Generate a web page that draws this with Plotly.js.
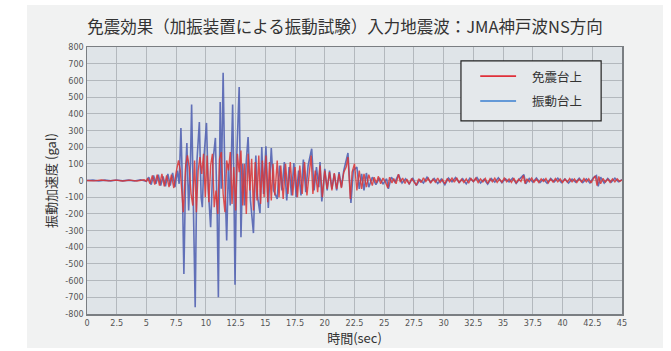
<!DOCTYPE html>
<html>
<head>
<meta charset="utf-8">
<script src="https://cdn.plot.ly/plotly-3.0.1.min.js"></script>
<style>
  html, body { margin: 0; padding: 0; background: #ffffff; width: 671px; height: 351px; overflow: hidden; }
  #chart { position: absolute; left: 27px; top: 5px; width: 636px; height: 343px; }
</style>
</head>
<body>
<div id="chart"></div>
<script>
const chartTitle = '免震効果（加振装置による振動試験）入力地震波：JMA神戸波NS方向';
const xTitle = '時間(sec)';
const yTitle = '振動加速度 (gal)';
const seriesNames = ['免震台上', '振動台上'];
const seriesColors = ['#dc3434', '#5363b3'];
const xTickVals = [0, 2.5, 5, 7.5, 10, 12.5, 15, 17.5, 20, 22.5, 25, 27.5, 30, 32.5, 35, 37.5, 40, 42.5, 45];
const yTickVals = [-800, -700, -600, -500, -400, -300, -200, -100, 0, 100, 200, 300, 400, 500, 600, 700, 800];

// 振動台上 (shaking table) : [time s, acceleration gal]
const shakeTablePts = [
  [0,0],[0.5,2],[1,-3],[1.5,2],[2,-2],[2.5,3],[3,-2],[3.5,2],[4,-3],[4.5,4],[5,-5],
  [5.2,20],[5.4,-25],[5.6,30],[5.8,-20],[6.0,35],[6.2,-30],[6.4,25],[6.6,-35],[6.8,40],[7.0,-30],[7.2,45],[7.4,-40],[7.6,60],
  [7.75,-20],[7.9,315],[8.0,50],[8.15,-560],[8.3,60],[8.4,225],[8.55,-180],[8.7,100],[8.8,455],[8.95,-100],[9.1,-760],
  [9.25,120],[9.45,350],[9.6,-100],[9.7,-160],[9.85,150],[10.05,345],[10.2,-50],[10.4,-280],[10.6,120],[10.8,255],
  [10.95,-200],[11.05,-700],[11.2,470],[11.3,-50],[11.45,645],[11.6,0],[11.75,-360],[11.9,100],[12.05,-150],[12.25,455],
  [12.35,0],[12.45,-625],[12.6,150],[12.8,560],[12.95,-340],[13.1,100],[13.25,-150],[13.4,120],[13.55,260],[13.75,-120],
  [14.0,-315],[14.2,150],[14.35,-100],[14.55,-195],[14.7,200],[14.85,-80],[15.05,205],[15.25,-165],[15.5,195],[15.7,-60],
  [16.0,-110],[16.2,90],[16.4,-60],[16.6,110],[16.8,-120],[17.0,80],[17.2,-90],[17.4,105],[17.6,-100],[17.8,60],[18.0,-90],
  [18.2,125],[18.4,-70],[18.6,90],[18.9,190],[19.1,-60],[19.3,80],[19.5,-40],[19.6,110],[19.75,-125],[20.0,70],[20.2,-60],
  [20.4,60],[20.6,-50],[20.8,40],[21.0,-60],[21.2,50],[21.4,-40],[21.6,60],[21.95,165],[22.2,-135],[22.4,60],[22.7,80],
  [22.9,-50],[23.1,40],[23.3,-60],[23.5,45],[23.7,-40],
  [24.0,20],[24.3,-25],[24.6,15],[24.9,-20],[25.2,10],[25.35,-50],[25.6,20],[25.9,-10],[26.2,35],[26.5,-15],[26.8,10],
  [27.1,-20],[27.4,15],[27.7,-30],[28.0,5],[28.3,-15],[28.6,20],[28.9,-10],[29.2,12],[29.5,-18],[29.8,8],[30.1,-25],
  [30.4,15],[30.7,-8],[31.0,18],[31.3,-12],[31.6,10],[31.9,-20],[32.2,14],[32.5,-6],[32.8,18],[33.1,-15],[33.4,8],
  [33.7,-22],[34.0,12],[34.3,-10],[34.6,16],[34.9,-14],[35.2,10],[35.5,-8],[35.8,14],[36.1,-18],[36.4,10],[36.75,35],
  [36.9,-20],[37.2,12],[37.5,-10],[37.8,15],[38.1,-12],[38.4,8],[38.7,-16],[39.0,12],[39.3,-8],[39.6,14],[39.9,-12],
  [40.2,10],[40.5,-15],[40.8,8],[41.1,-10],[41.4,14],[41.7,-12],[42.0,10],[42.3,-15],[42.6,18],[42.85,30],[43.0,-35],
  [43.2,20],[43.5,-15],[43.8,12],[44.1,-10],[44.4,14],[44.7,-8],[45.0,5]
];

// 免震台上 (isolated deck) : [time s, acceleration gal]
const isolatedPts = [
  [0,0],[0.6,-2],[1.2,3],[1.8,-2],[2.4,2],[3.0,-3],[3.6,2],[4.2,-3],[4.8,4],[5.0,-4],
  [5.1,15],[5.3,-20],[5.5,30],[5.7,-25],[5.9,35],[6.1,-30],[6.3,40],[6.5,-35],[6.7,30],[6.9,-40],[7.1,35],[7.3,-45],[7.5,50],
  [7.7,120],[7.85,60],[8.0,-120],[8.1,-190],[8.3,90],[8.45,150],[8.6,80],[8.75,-80],[8.9,-150],[9.05,120],[9.2,-190],
  [9.35,60],[9.5,140],[9.65,40],[9.8,160],[9.95,-100],[10.1,150],[10.25,-130],[10.4,90],[10.55,160],[10.7,-160],[10.85,-60],
  [11.0,-200],[11.15,130],[11.3,170],[11.45,-80],[11.6,-190],[11.75,120],[11.9,60],[12.05,170],[12.2,-140],[12.35,80],
  [12.5,-180],[12.65,160],[12.8,50],[12.95,180],[13.1,-150],[13.25,100],[13.4,-200],[13.55,160],[13.7,-60],[13.85,130],
  [14.0,-180],[14.15,110],[14.3,-120],[14.45,150],[14.6,-140],[14.75,120],[14.9,-100],[15.05,150],[15.2,-130],[15.35,110],
  [15.5,-120],[15.65,100],[15.8,-90],[16.0,120],[16.15,-100],[16.3,90],[16.5,-110],[16.7,100],[16.9,-80],[17.1,110],
  [17.3,-90],[17.5,80],[17.7,-100],[17.9,90],[18.1,-80],[18.3,110],[18.5,-90],[18.7,70],[18.85,150],[19.0,-80],[19.2,60],
  [19.4,-70],[19.6,90],[19.8,-100],[20.0,60],[20.2,-50],[20.4,50],[20.6,-60],[20.8,45],[21.0,-50],[21.2,40],[21.4,-45],
  [21.6,50],[21.8,80],[21.95,140],[22.15,-110],[22.3,50],[22.5,100],[22.7,-60],[22.9,60],[23.1,-50],[23.3,40],[23.5,-40],
  [23.7,35],[24.0,-30],[24.15,20],[24.35,-15],[24.5,25],[24.7,-20],[24.9,15],[25.1,-10],[25.3,-45],[25.45,20],[25.65,-15],
  [25.8,12],[26.0,-20],[26.2,38],[26.35,-10],[26.55,15],[26.75,-18],[26.9,8],[27.1,-22],[27.3,12],[27.5,-8],[27.7,-28],
  [27.9,10],[28.1,-12],[28.3,16],[28.5,-6],[28.7,14],[28.9,-16],[29.1,8],[29.3,-10],[29.5,15],[29.7,-12],[29.9,6],
  [30.1,-20],[30.3,12],[30.5,-8],[30.7,14],[30.9,-10],[31.1,16],[31.3,-14],[31.5,8],[31.7,-12],[31.9,10],[32.1,-16],
  [32.3,12],[32.5,-6],[32.7,15],[32.9,-12],[33.1,10],[33.3,-8],[33.5,12],[33.7,-18],[33.9,10],[34.1,-8],[34.3,14],
  [34.5,-12],[34.7,8],[34.9,-10],[35.1,15],[35.3,-8],[35.5,10],[35.7,-12],[35.9,14],[36.1,-16],[36.3,8],[36.5,-6],
  [36.7,30],[36.85,-18],[37.0,10],[37.2,-8],[37.4,14],[37.6,-10],[37.8,8],[38.0,-12],[38.2,10],[38.4,-6],[38.6,12],
  [38.8,-14],[39.0,8],[39.2,-10],[39.4,12],[39.6,-8],[39.8,10],[40.0,-12],[40.2,8],[40.4,-10],[40.6,12],[40.8,-8],
  [41.0,10],[41.2,-12],[41.4,8],[41.6,-10],[41.8,12],[42.0,-8],[42.2,10],[42.4,-14],[42.6,12],[42.75,28],[42.9,-30],
  [43.05,25],[43.2,-20],[43.4,12],[43.6,-10],[43.8,8],[44.0,-12],[44.2,10],[44.4,-8],[44.6,10],[44.8,-6],[45.0,4]
];

const tickFont = { family: '"Liberation Sans Narrow", "DejaVu Sans Condensed", "Noto Sans", sans-serif', size: 9, color: '#555555' };
const jpFont = '"Noto Sans CJK JP", "Noto Sans", sans-serif';

const traces = [
  {
    x: shakeTablePts.map(p => p[0]), y: shakeTablePts.map(p => p[1]),
    name: seriesNames[1], type: 'scatter', mode: 'lines', showlegend: false,
    line: { color: seriesColors[1], width: 1.6 }, opacity: 0.9
  },
  {
    x: isolatedPts.map(p => p[0]), y: isolatedPts.map(p => p[1]),
    name: seriesNames[0], type: 'scatter', mode: 'lines', showlegend: false,
    line: { color: seriesColors[0], width: 1.4 }, opacity: 0.85
  }
];

// legend box drawn in paper coordinates (position only)
const legendBox = { x0: 0.699, x1: 0.961, y0: 0.723, y1: 0.948 };
const legendRowsY = [0.891, 0.798];
const legendLineX = [0.735, 0.802];
const legendTextX = 0.828;

const shapes = [
  { type: 'rect', xref: 'paper', yref: 'paper', x0: legendBox.x0, x1: legendBox.x1, y0: legendBox.y0, y1: legendBox.y1,
    fillcolor: '#e4e8eb', line: { color: '#222222', width: 1.2 }, layer: 'above' }
];
const annotations = [];
seriesNames.forEach((nm, i) => {
  shapes.push({ type: 'line', xref: 'paper', yref: 'paper', x0: legendLineX[0], x1: legendLineX[1],
    y0: legendRowsY[i], y1: legendRowsY[i], line: { color: i === 0 ? '#e0303a' : '#3a7fd0', width: 1.6 }, layer: 'above' });
  annotations.push({ xref: 'paper', yref: 'paper', x: legendTextX, y: legendRowsY[i], xanchor: 'left', yanchor: 'middle',
    text: nm, showarrow: false, font: { family: jpFont, size: 12.5, color: '#333333' } });
});

const layout = {
  width: 636, height: 343,
  paper_bgcolor: '#f1f2f2',
  plot_bgcolor: '#dfe4e8',
  margin: { l: 60, r: 41, t: 42, b: 34 },
  title: { text: chartTitle, font: { family: jpFont, size: 16.5, color: '#333333' }, x: 0.5, xanchor: 'center', y: 0.935, yanchor: 'middle', yref: 'container' },
  xaxis: {
    range: [0, 45], tickvals: xTickVals, ticktext: xTickVals.map(String),
    showgrid: true, gridcolor: '#b3b8bd', gridwidth: 1,
    showline: true, linecolor: '#7a7e82', linewidth: 1.5, mirror: true,
    ticks: '', tickfont: tickFont, zeroline: false,
    title: { text: xTitle, font: { family: jpFont, size: 13, color: '#333333' }, standoff: 6 }
  },
  yaxis: {
    range: [-800, 800], tickvals: yTickVals, ticktext: yTickVals.map(String),
    showgrid: true, gridcolor: '#b3b8bd', gridwidth: 1,
    showline: true, linecolor: '#7a7e82', linewidth: 1.5, mirror: true,
    ticks: '', tickfont: tickFont, zeroline: false,
    title: { text: yTitle, font: { family: jpFont, size: 13, color: '#333333' }, standoff: 6 }
  },
  showlegend: false,
  shapes: shapes,
  annotations: annotations
};

Plotly.newPlot('chart', traces, layout, { displayModeBar: false, staticPlot: true });
</script>
</body>
</html>
